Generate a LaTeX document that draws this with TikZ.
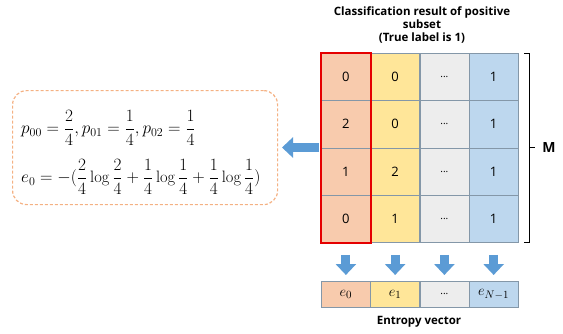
\documentclass[tikz,border=0pt]{standalone}
\usepackage{amsmath}
\usepackage{fontspec}
\setsansfont{Open Sans}
\usetikzlibrary{arrows.meta}
\definecolor{cOr}{HTML}{F8CBAD}
\definecolor{cYe}{HTML}{FFE699}
\definecolor{cGr}{HTML}{EDEDED}
\definecolor{cBl}{HTML}{BDD7EE}
\definecolor{cBd}{HTML}{8497A8}
\definecolor{cAr}{HTML}{5B9BD5}
\definecolor{cDa}{HTML}{F4B183}
\begin{document}
\begin{tikzpicture}[x=1pt,y=-1pt,
  cell/.style={draw=cBd,line width=0.8pt,minimum width=49pt,minimum height=47.25pt,inner sep=0pt,font=\sffamily\fontsize{13}{15}\selectfont,anchor=north west},
  ecell/.style={draw=cBd,line width=0.8pt,minimum width=49pt,minimum height=26pt,inner sep=0pt,anchor=north west,font=\fontsize{15}{17}\selectfont},
  bigarrow/.style={cAr,line width=9pt,-{Triangle[width=20pt,length=11pt]}},
  lbl/.style={font=\sffamily\bfseries\fontsize{11.5}{13}\selectfont,align=center}]
\useasboundingbox (0,0) rectangle (563,333);
% title
\node[lbl] (title) at (422,25) {Classification result of positive\\subset\\(True label is 1)};
% matrix
\foreach \c/\col in {0/cOr,1/cYe,2/cGr,3/cBl}{
  \foreach \r in {0,1,2,3}{
    \pgfmathsetmacro{\xx}{321+\c*49.25}
    \pgfmathsetmacro{\yy}{53+\r*47.25}
    \node[cell,fill=\col] (m\c\r) at (\xx,\yy) {};
  }
}
\tikzset{num/.style={font=\sffamily\fontsize{13}{15}\selectfont}, dots/.style={font=\sffamily\fontsize{10}{12}\selectfont}}
\node[num] at (m00) {0}; \node[num] at (m01) {2}; \node[num] at (m02) {1}; \node[num] at (m03) {0};
\node[num] at (m10) {0}; \node[num] at (m11) {0}; \node[num] at (m12) {2}; \node[num] at (m13) {1};
\foreach \r in {0,1,2,3}{ \node[dots] at (m2\r) {...}; \node[num] at (m3\r) {1}; }
\draw[red!90!black,line width=2pt] (m00.north west) rectangle (m03.south east);
% bracket
\coordinate (bt) at (524,53);
\coordinate (bb) at (524,242);
\draw[line width=0.8pt] (bt) -- ++(5,0) -- ++(0,189) -- ++(-5,0);
\draw[line width=0.8pt] (529,147.5) -- (535,147.5);
\node[font=\sffamily\bfseries\fontsize{14}{16}\selectfont] (M) at (549,147.5) {M};
% entropy vector
\foreach \c/\col/\t in {0/cOr/{e_0},1/cYe/{e_1},2/cGr/{},3/cBl/{e_{N-1}}}{
  \pgfmathsetmacro{\xx}{321+\c*49.25}
  \node[ecell,fill=\col] (e\c) at (\xx,281) {$\t$};
}
\node[dots] at (e2) {...};
\node[lbl] (ev) at (419,322) {Entropy vector};
% down arrows
\foreach \c in {0,1,2,3}{
  \coordinate (as\c) at ([yshift=-12pt]m\c3.south);
  \coordinate (ae\c) at ([yshift=6pt]e\c.north);
  \draw[bigarrow] (as\c) -- (ae\c);
}
% left formula box
\node[draw=cDa,dash pattern=on 3pt off 2pt,line width=1.2pt,rounded corners=14pt,minimum width=265pt,minimum height=114pt,anchor=north west] (box) at (12,90) {};
\node[anchor=west,inner sep=0pt,font=\fontsize{16.5}{19}\selectfont] (f1) at (21,128) {$p_{00}=\dfrac{2}{4},p_{01}=\dfrac{1}{4},p_{02}=\dfrac{1}{4}$};
\node[anchor=west,inner sep=0pt,font=\fontsize{16.5}{19}\selectfont] (f2) at (21,177) {$e_0=-(\dfrac{2}{4}\log\dfrac{2}{4}+\dfrac{1}{4}\log\dfrac{1}{4}+\dfrac{1}{4}\log\dfrac{1}{4})$};
% left arrow
\coordinate (la) at (319,147.5);
\coordinate (lb) at (282,147.5);
\draw[bigarrow] (la) -- (lb);
\end{tikzpicture}
\end{document}
